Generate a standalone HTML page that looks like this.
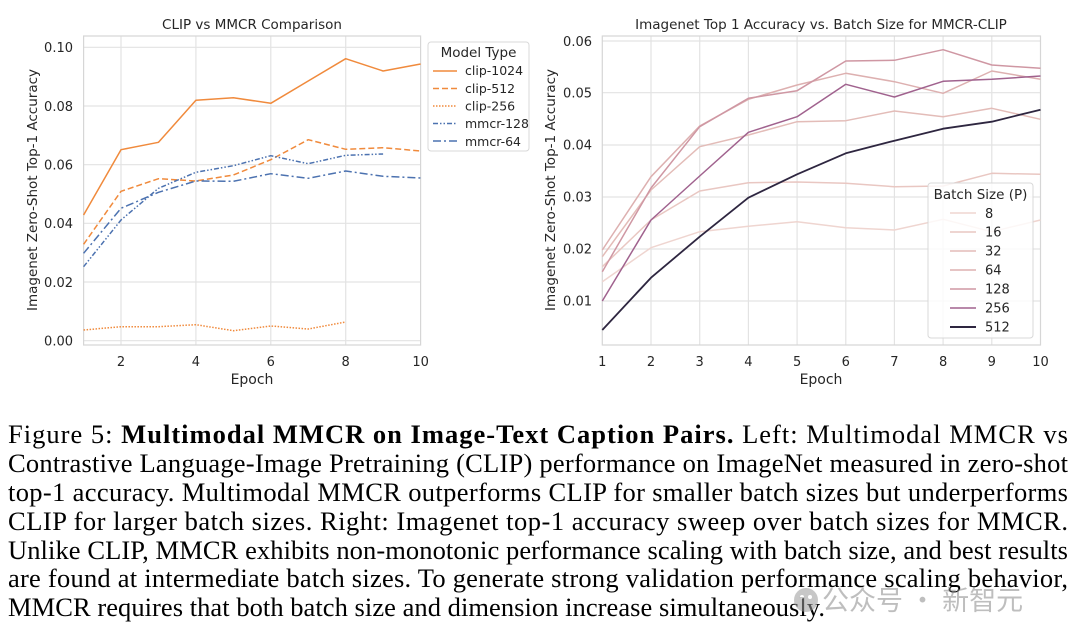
<!DOCTYPE html>
<html><head><meta charset="utf-8"><style>
html,body{margin:0;padding:0;background:#fff;}
svg{display:block;}
.t{font-family:"DejaVu Sans","Liberation Sans",sans-serif;fill:#262626;}
.c{font-family:"Liberation Serif",serif;font-size:26.5px;fill:#000;}
</style></head><body>
<svg width="1080" height="639" viewBox="0 0 1080 639" xmlns="http://www.w3.org/2000/svg">
<!-- LEFT CHART -->
<g stroke="#e3e3e3" stroke-width="1.2">
<line x1="121" y1="36" x2="121" y2="345"/><line x1="195.9" y1="36" x2="195.9" y2="345"/><line x1="270.8" y1="36" x2="270.8" y2="345"/><line x1="345.7" y1="36" x2="345.7" y2="345"/>
<line x1="83.6" y1="340.7" x2="420.6" y2="340.7"/><line x1="83.6" y1="282" x2="420.6" y2="282"/><line x1="83.6" y1="223.3" x2="420.6" y2="223.3"/><line x1="83.6" y1="164.7" x2="420.6" y2="164.7"/><line x1="83.6" y1="106" x2="420.6" y2="106"/><line x1="83.6" y1="47.3" x2="420.6" y2="47.3"/>
</g>
<rect x="83.6" y="36" width="337" height="309" fill="none" stroke="#d6d6d6" stroke-width="1.2"/>
<g fill="none" stroke-width="1.5" stroke-linejoin="round">
<polyline stroke="#f08a3c" points="83.6,215 121,149.7 158.5,142.3 195.9,100.3 233.4,97.7 270.8,103.3 308.2,81 345.7,58.7 383.1,71 420.6,64"/>
<polyline stroke="#f08a3c" stroke-dasharray="6,3" points="83.6,244.3 121,191.3 158.5,178.7 195.9,181 233.4,175 270.8,159.7 308.2,139.7 345.7,149.3 383.1,147.7 420.6,151"/>
<polyline stroke="#f08a3c" stroke-dasharray="1.5,1.5" points="83.6,330 121,326.7 158.5,326.7 195.9,324.7 233.4,330.7 270.8,326 308.2,329 345.7,322"/>
<polyline stroke="#4c72b0" stroke-dasharray="5,2,1.5,2,1.5,2" points="83.6,266.7 121,220 158.5,188.3 195.9,172.3 233.4,165.7 270.8,155.7 308.2,163.7 345.7,155.3 383.1,154"/>
<polyline stroke="#4c72b0" stroke-dasharray="8,3,2,3" points="83.6,253.3 121,208.3 158.5,192.3 195.9,181 233.4,181.3 270.8,173.7 308.2,178.3 345.7,171 383.1,176.3 420.6,178"/>
</g>
<g class="t" font-size="13" text-anchor="end">
<text x="73" y="52">0.10</text><text x="73" y="111">0.08</text><text x="73" y="169.5">0.06</text><text x="73" y="228">0.04</text><text x="73" y="287">0.02</text><text x="73" y="345.5">0.00</text>
</g>
<g class="t" font-size="13" text-anchor="middle">
<text x="121" y="366">2</text><text x="195.9" y="366">4</text><text x="270.8" y="366">6</text><text x="345.7" y="366">8</text><text x="420.6" y="366">10</text>
<text x="252" y="384" font-size="14">Epoch</text>
<text x="252" y="29" font-size="13.5">CLIP vs MMCR Comparison</text>
<text transform="translate(37,190) rotate(-90)" font-size="13.5">Imagenet Zero-Shot Top-1 Accuracy</text>
</g>
<rect x="428" y="42" width="101" height="109" rx="3" fill="#fff" stroke="#d8d8d8"/>
<g class="t" font-size="12.5">
<text x="478.5" y="57" text-anchor="middle" font-size="13.5">Model Type</text>
<text x="465" y="75">clip-1024</text><text x="465" y="93">clip-512</text><text x="465" y="110.5">clip-256</text><text x="465" y="128">mmcr-128</text><text x="465" y="146">mmcr-64</text>
</g>
<g fill="none" stroke-width="1.5">
<line x1="433" y1="71" x2="457" y2="71" stroke="#f08a3c"/>
<line x1="433" y1="88.5" x2="457" y2="88.5" stroke="#f08a3c" stroke-dasharray="6,3"/>
<line x1="433" y1="106" x2="457" y2="106" stroke="#f08a3c" stroke-dasharray="1.5,1.5"/>
<line x1="433" y1="123.5" x2="457" y2="123.5" stroke="#4c72b0" stroke-dasharray="5,2,1.5,2,1.5,2"/>
<line x1="433" y1="141" x2="457" y2="141" stroke="#4c72b0" stroke-dasharray="8,3,2,3"/>
</g>

<!-- RIGHT CHART -->
<g stroke="#e3e3e3" stroke-width="1.2">
<line x1="651" y1="36" x2="651" y2="345"/><line x1="699.7" y1="36" x2="699.7" y2="345"/><line x1="748.4" y1="36" x2="748.4" y2="345"/><line x1="797.1" y1="36" x2="797.1" y2="345"/><line x1="845.8" y1="36" x2="845.8" y2="345"/><line x1="894.4" y1="36" x2="894.4" y2="345"/><line x1="943.1" y1="36" x2="943.1" y2="345"/><line x1="991.8" y1="36" x2="991.8" y2="345"/>
<line x1="602.3" y1="41" x2="1040.5" y2="41"/><line x1="602.3" y1="92.7" x2="1040.5" y2="92.7"/><line x1="602.3" y1="145" x2="1040.5" y2="145"/><line x1="602.3" y1="197" x2="1040.5" y2="197"/><line x1="602.3" y1="249" x2="1040.5" y2="249"/><line x1="602.3" y1="301" x2="1040.5" y2="301"/>
</g>
<rect x="602.3" y="36" width="438.2" height="309" fill="none" stroke="#d6d6d6" stroke-width="1.2"/>
<g fill="none" stroke-width="1.5" stroke-linejoin="round">
<polyline stroke="#efd5d0" points="602.3,281.7 651,247.7 699.7,231.7 748.4,226.3 797.1,221.7 845.8,227.7 894.4,230 943.1,219.3 991.8,231.7 1040.5,220"/>
<polyline stroke="#e9c7c2" points="602.3,266.7 651,220 699.7,191 748.4,182.7 797.1,182 845.8,183.3 894.4,186.7 943.1,186 991.8,173.3 1040.5,174.3"/>
<polyline stroke="#e3bcb8" points="602.3,256.7 651,190 699.7,146.7 748.4,135 797.1,121.7 845.8,120.7 894.4,111 943.1,116.7 991.8,108.3 1040.5,119.3"/>
<polyline stroke="#ddb0b0" points="602.3,250 651,176.7 699.7,126 748.4,99.3 797.1,85 845.8,73.3 894.4,81.7 943.1,93.3 991.8,71 1040.5,79.3"/>
<polyline stroke="#cf97a3" points="602.3,271.7 651,188 699.7,126.7 748.4,98.3 797.1,90.7 845.8,61 894.4,60.3 943.1,49.7 991.8,65 1040.5,68.3"/>
<polyline stroke="#a0628e" points="602.3,301 651,220 699.7,176 748.4,132.3 797.1,116.7 845.8,84.3 894.4,97 943.1,81.3 991.8,79.3 1040.5,76"/>
<polyline stroke="#2e2640" stroke-width="1.8" points="602.3,330 651,277.7 699.7,236.7 748.4,197.7 797.1,174.3 845.8,153.3 894.4,140.7 943.1,128.7 991.8,121.7 1040.5,109.7"/>
</g>
<g class="t" font-size="13" text-anchor="end">
<text x="592" y="46">0.06</text><text x="592" y="97.5">0.05</text><text x="592" y="149.5">0.04</text><text x="592" y="201.5">0.03</text><text x="592" y="253.5">0.02</text><text x="592" y="305.5">0.01</text>
</g>
<g class="t" font-size="13" text-anchor="middle">
<text x="602.3" y="366">1</text><text x="651" y="366">2</text><text x="699.7" y="366">3</text><text x="748.4" y="366">4</text><text x="797.1" y="366">5</text><text x="845.8" y="366">6</text><text x="894.4" y="366">7</text><text x="943.1" y="366">8</text><text x="991.8" y="366">9</text><text x="1040.5" y="366">10</text>
<text x="821" y="384" font-size="14">Epoch</text>
<text x="821" y="29" font-size="13.5">Imagenet Top 1 Accuracy vs. Batch Size for MMCR-CLIP</text>
<text transform="translate(555,190) rotate(-90)" font-size="13.5">Imagenet Zero-Shot Top-1 Accuracy</text>
</g>
<rect x="928" y="183" width="105" height="155" rx="3" fill="#fff" fill-opacity="0.8" stroke="#d8d8d8"/>
<g class="t" font-size="13">
<text x="980.5" y="199" text-anchor="middle" font-size="13.5">Batch Size (P)</text>
<text x="985" y="218">8</text><text x="985" y="236.5">16</text><text x="985" y="255.5">32</text><text x="985" y="274.5">64</text><text x="985" y="293.5">128</text><text x="985" y="312.5">256</text><text x="985" y="331.5">512</text>
</g>
<g stroke-width="1.6">
<line x1="950" y1="213" x2="976" y2="213" stroke="#efd5d0"/>
<line x1="950" y1="232" x2="976" y2="232" stroke="#e9c7c2"/>
<line x1="950" y1="251" x2="976" y2="251" stroke="#e3bcb8"/>
<line x1="950" y1="270" x2="976" y2="270" stroke="#ddb0b0"/>
<line x1="950" y1="289" x2="976" y2="289" stroke="#cf97a3"/>
<line x1="950" y1="308" x2="976" y2="308" stroke="#a0628e"/>
<line x1="950" y1="327" x2="976" y2="327" stroke="#2e2640" stroke-width="1.9"/>
</g>

<!-- CAPTION -->
<text class="c" x="8" y="443" textLength="1060" lengthAdjust="spacing">Figure 5:  <tspan font-weight="bold">Multimodal MMCR on Image-Text Caption Pairs.</tspan>  Left:  Multimodal MMCR vs</text>
<text class="c" x="8" y="472" textLength="1060" lengthAdjust="spacing">Contrastive Language-Image Pretraining (CLIP) performance on ImageNet measured in zero-shot</text>
<text class="c" x="8" y="501" textLength="1060" lengthAdjust="spacing">top-1 accuracy. Multimodal MMCR outperforms CLIP for smaller batch sizes but underperforms</text>
<text class="c" x="8" y="530" textLength="1060" lengthAdjust="spacing">CLIP for larger batch sizes.  Right:  Imagenet top-1 accuracy sweep over batch sizes for MMCR.</text>
<text class="c" x="8" y="559" textLength="1060" lengthAdjust="spacing">Unlike CLIP, MMCR exhibits non-monotonic performance scaling with batch size, and best results</text>
<text class="c" x="8" y="587" textLength="1060" lengthAdjust="spacing">are found at intermediate batch sizes. To generate strong validation performance scaling behavior,</text>
<text class="c" x="8" y="616" textLength="817" lengthAdjust="spacing">MMCR requires that both batch size and dimension increase simultaneously.</text>

<!-- watermark -->
<g opacity="0.55">
<circle cx="806" cy="600" r="12" fill="#9a9a9a"/>
<circle cx="802" cy="597" r="2" fill="#fff"/><circle cx="810" cy="597" r="2" fill="#fff"/>
<text x="822" y="610" font-family="'Noto Sans CJK SC','WenQuanYi Zen Hei',sans-serif" font-size="27" fill="#8a8a8a">公众号 · 新智元</text>
</g>
</svg>
</body></html>
